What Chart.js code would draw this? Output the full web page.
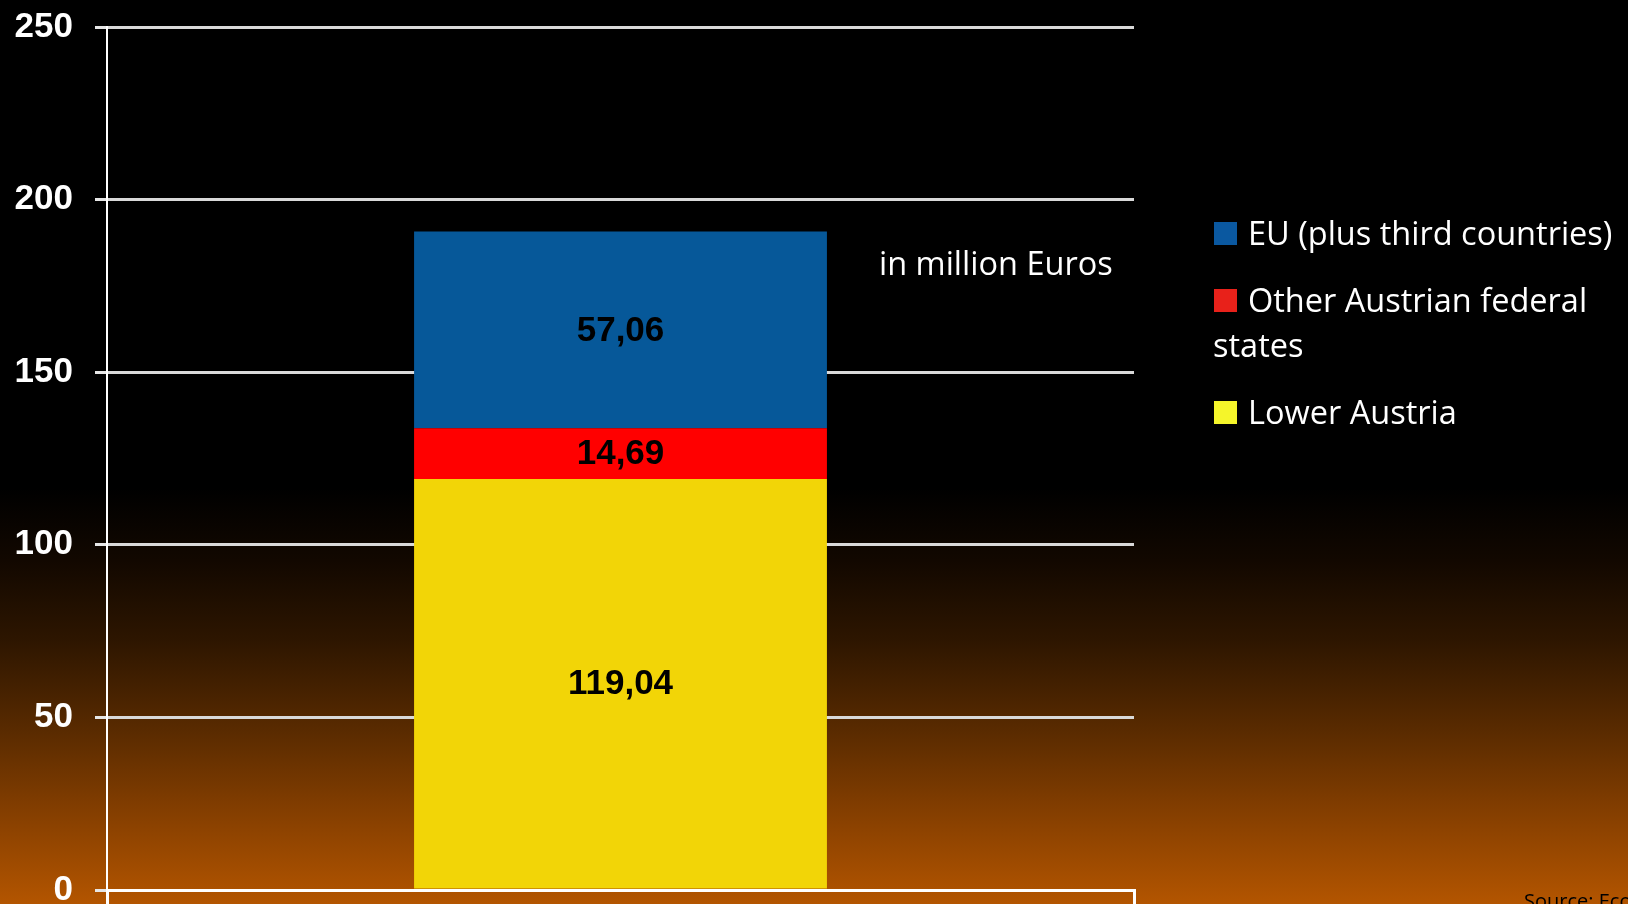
<!DOCTYPE html>
<html>
<head>
<meta charset="utf-8">
<script src="https://cdn.jsdelivr.net/npm/chart.js@4.4.1/dist/chart.umd.min.js"></script>
<style>
  html, body { margin: 0; padding: 0; overflow: hidden; }
  body {
    width: 1628px; height: 904px;
    background: linear-gradient(to bottom, #000000 0%, #000000 54%, #120800 62%, #2e1600 71%, #5a2b00 81%, #8a4100 91%, #b35500 100%);
  }
  #wrap { position: absolute; left: 0; top: 0; width: 1628px; height: 904px; }
  #overlay { position: absolute; left: 0; top: 0; pointer-events: none; overflow: hidden; }
  #overlay text { font-family: "Open Sans", Lato, sans-serif; }
</style>
</head>
<body>
<div id="wrap"><canvas id="c" width="1628" height="904"></canvas></div>
<svg id="overlay" width="1628" height="904" xmlns="http://www.w3.org/2000/svg"></svg>
<script>
// ---- data ----
const categories = ["Total"];
const seriesNames = ["Lower Austria", "Other Austrian federal states", "EU (plus third countries)"];
const lowerAustria = [119.04];
const otherStates = [14.69];
const euThird = [57.06];
const yTicks = [0, 50, 100, 150, 200, 250];
const valueLabels = ["119,04", "14,69", "57,06"];

// ---- styles ----
const barColors = ["#f2d507", "#ff0000", "#065899"];
const legendColors = ["#f5f52a", "#e8211a", "#0a58a0"];

const segmentLabels = {
  id: 'segmentLabels',
  afterDatasetsDraw(chart) {
    const ctx = chart.ctx;
    ctx.save();
    ctx.font = 'bold 35px "Liberation Sans", Arial, sans-serif';
    ctx.fillStyle = '#000';
    ctx.textAlign = 'center';
    ctx.textBaseline = 'middle';
    chart.data.datasets.forEach((ds, i) => {
      const meta = chart.getDatasetMeta(i);
      meta.data.forEach((el) => {
        const p = el.getCenterPoint();
        ctx.fillText(valueLabels[i], p.x, p.y + 1);
      });
    });
    ctx.restore();
  }
};

new Chart(document.getElementById('c'), {
  type: 'bar',
  data: {
    labels: categories,
    datasets: [
      { label: seriesNames[0], data: lowerAustria, backgroundColor: barColors[0] },
      { label: seriesNames[1], data: otherStates, backgroundColor: barColors[1] },
      { label: seriesNames[2], data: euThird, backgroundColor: barColors[2] }
    ]
  },
  options: {
    responsive: false,
    devicePixelRatio: 1,
    animation: false,
    layout: { padding: { top: 27, right: 494, bottom: 0, left: 0 } },
    plugins: { legend: { display: false }, tooltip: { enabled: false } },
    datasets: { bar: { categoryPercentage: 1, barPercentage: 0.402, borderWidth: 0 } },
    scales: {
      x: {
        stacked: true,
        offset: true,
        ticks: { display: false },
        afterFit(scale) { scale.height = 14; scale.paddingLeft = 0; scale.paddingRight = 0; },
        grid: { display: true, drawOnChartArea: false, drawTicks: true, tickLength: 14, color: '#ffffff', lineWidth: 3, offset: true },
        border: { display: true, color: '#ffffff', width: 3 }
      },
      y: {
        stacked: true,
        min: 0, max: 250,
        afterBuildTicks(scale) { scale.ticks = yTicks.map(v => ({ value: v })); },
        afterFit(scale) { scale.width = 107; scale.paddingTop = 0; scale.paddingBottom = 0; },
        ticks: {
          color: '#ffffff',
          padding: 22,
          font: { family: '"Liberation Sans", Arial, sans-serif', weight: 'bold', size: 35 },
          callback: (v) => String(v)
        },
        grid: { color: '#d9d9d9', lineWidth: 3, tickLength: 12, tickColor: '#e6e6e6', tickWidth: 3 },
        border: { display: true, color: '#ffffff', width: 2 }
      }
    }
  },
  plugins: [segmentLabels]
});

// ---- legend & annotations (SVG text) ----
const svg = document.getElementById('overlay');
const NS = 'http://www.w3.org/2000/svg';
function addText(str, x, y, size, color) {
  const t = document.createElementNS(NS, 'text');
  t.setAttribute('x', x); t.setAttribute('y', y);
  t.setAttribute('font-size', size); t.setAttribute('fill', color);
  t.textContent = str;
  svg.appendChild(t);
  return t;
}
function addRect(x, y, w, h, color) {
  const r = document.createElementNS(NS, 'rect');
  r.setAttribute('x', x); r.setAttribute('y', y);
  r.setAttribute('width', w); r.setAttribute('height', h);
  r.setAttribute('fill', color);
  svg.appendChild(r);
}
const legendItems = [
  { lines: [seriesNames[2]], color: legendColors[2], base: 245 },
  { lines: ["Other Austrian federal", "states"], color: legendColors[1], base: 312 },
  { lines: [seriesNames[0]], color: legendColors[0], base: 424 }
];
legendItems.forEach(item => {
  addRect(1214, item.base - 23, 23, 23, item.color);
  item.lines.forEach((ln, k) => {
    addText(ln, k === 0 ? 1248 : 1213, item.base + k * 45, 32.5, '#ffffff');
  });
});
addText("in million Euros", 879, 275, 32.5, '#ffffff');
addText("Source: Econ", 1524, 908, 20, '#000000');
</script>
</body>
</html>
